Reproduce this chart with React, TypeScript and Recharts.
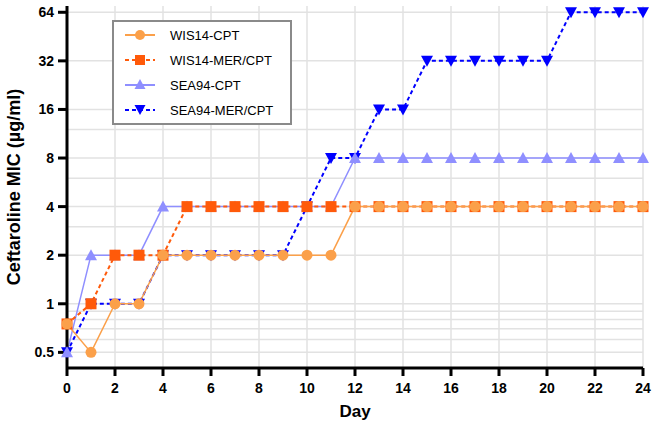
import React from "react";
import { LineChart, Line, XAxis, YAxis, CartesianGrid, Legend } from "recharts";

const days = [0, 1, 2, 3, 4, 5, 6, 7, 8, 9, 10, 11, 12, 13, 14, 15, 16, 17, 18, 19, 20, 21, 22, 23, 24];
const wis14Cpt = [0.75, 0.5, 1, 1, 2, 2, 2, 2, 2, 2, 2, 2, 4, 4, 4, 4, 4, 4, 4, 4, 4, 4, 4, 4, 4];
const wis14MerCpt = [0.75, 1, 2, 2, 2, 4, 4, 4, 4, 4, 4, 4, 4, 4, 4, 4, 4, 4, 4, 4, 4, 4, 4, 4, 4];
const sea94Cpt = [0.5, 2, 2, 2, 4, 4, 4, 4, 4, 4, 4, 4, 8, 8, 8, 8, 8, 8, 8, 8, 8, 8, 8, 8, 8];
const sea94MerCpt = [0.5, 1, 1, 1, 2, 2, 2, 2, 2, 2, 4, 8, 8, 16, 16, 32, 32, 32, 32, 32, 32, 64, 64, 64, 64];

const seriesNames = ["WIS14-CPT", "WIS14-MER/CPT", "SEA94-CPT", "SEA94-MER/CPT"];
const yTicks = [0.5, 1, 2, 4, 8, 16, 32, 64];
const xTicks = [0, 2, 4, 6, 8, 10, 12, 14, 16, 18, 20, 22, 24];
const yGrid = [0.5, 0.6, 0.7, 0.8, 0.9, 1, 2, 3, 4, 6, 8, 12, 16, 32, 64];

const data = days.map((d, i) => ({
  day: d,
  wis14Cpt: wis14Cpt[i],
  wis14MerCpt: wis14MerCpt[i],
  sea94Cpt: sea94Cpt[i],
  sea94MerCpt: sea94MerCpt[i],
}));

const C_WCPT = "#fba04a";
const C_WMER = "#ff5a0a";
const C_SCPT = "#8f8fff";
const C_SMER = "#0000ff";

const font = "'Liberation Sans', Arial, sans-serif";

const Circle = (p: any) => {
  const { cx, cy, key } = p;
  if (cx == null || cy == null) return <g key={key} />;
  return <circle key={key} cx={cx} cy={cy} r={5.5} fill={C_WCPT} stroke="none" />;
};
const Square = (p: any) => {
  const { cx, cy, key } = p;
  if (cx == null || cy == null) return <g key={key} />;
  return <rect key={key} x={cx - 5.5} y={cy - 5.5} width={11} height={11} fill={C_WMER} stroke="none" />;
};
const TriUp = (p: any) => {
  const { cx, cy, key } = p;
  if (cx == null || cy == null) return <g key={key} />;
  return <path key={key} d={`M${cx},${cy - 6}L${cx + 6},${cy + 5}L${cx - 6},${cy + 5}Z`} fill={C_SCPT} stroke="none" />;
};
const TriDown = (p: any) => {
  const { cx, cy, key } = p;
  if (cx == null || cy == null) return <g key={key} />;
  return <path key={key} d={`M${cx - 6},${cy - 5}L${cx + 6},${cy - 5}L${cx},${cy + 6}Z`} fill={C_SMER} stroke="none" />;
};

const legendItems = [
  { name: seriesNames[0], color: C_WCPT, dash: undefined, marker: "circle" },
  { name: seriesNames[1], color: C_WMER, dash: "4 3", marker: "square" },
  { name: seriesNames[2], color: C_SCPT, dash: undefined, marker: "up" },
  { name: seriesNames[3], color: C_SMER, dash: "4 3", marker: "down" },
];

const LegendContent = () => (
  <div
    style={{
      position: "relative",
      width: 176,
      height: 101,
      border: "2px solid #8a8a8a",
      background: "#fff",
      boxSizing: "content-box",
      fontFamily: font,
      fontSize: 13,
      color: "#000",
    }}
  >
    {legendItems.map((it, i) => (
      <div key={it.name} style={{ position: "absolute", left: 0, top: 3 + i * 25, height: 20, display: "flex", alignItems: "center" }}>
        <svg width={50} height={20} style={{ display: "block" }}>
          <line x1={11} x2={41} y1={10} y2={10} stroke={it.color} strokeWidth={2} strokeDasharray={it.dash} />
          {it.marker === "circle" && <circle cx={26} cy={10} r={5} fill={it.color} />}
          {it.marker === "square" && <rect x={21} y={5} width={10} height={10} fill={it.color} />}
          {it.marker === "up" && <path d="M26,4L31.5,14L20.5,14Z" fill={it.color} />}
          {it.marker === "down" && <path d="M20.5,5L31.5,5L26,15Z" fill={it.color} />}
        </svg>
        <span style={{ marginLeft: 6, whiteSpace: "nowrap" }}>{it.name}</span>
      </div>
    ))}
  </div>
);

const tickStyle = { fill: "#000", fontSize: 14, fontWeight: "bold" as const, fontFamily: font };

export default function App() {
  return (
    <div style={{ position: "absolute", left: 0, top: 0, width: 656, height: 424, background: "#fff" }}>
      <LineChart width={656} height={424} data={data} margin={{ top: 6, right: 13, bottom: 0, left: 0 }}>
        <CartesianGrid
          stroke="#e2e2e2"
          strokeWidth={1.5}
          horizontalValues={yGrid}
          verticalValues={xTicks}
        />
        <XAxis
          dataKey="day"
          type="number"
          domain={[0, 24]}
          ticks={xTicks}
          interval={0}
          height={56}
          axisLine={{ stroke: "#000", strokeWidth: 3 }}
          tickLine={{ stroke: "#000", strokeWidth: 3 }}
          tickSize={8}
          tickMargin={7}
          tick={tickStyle}
          label={{ value: "Day", position: "insideBottom", offset: 7, style: { fill: "#000", fontSize: 17, fontWeight: "bold", fontFamily: font } }}
        />
        <YAxis
          type="number"
          scale="log"
          domain={[0.4, 70]}
          allowDataOverflow
          ticks={yTicks}
          interval={0}
          width={67}
          axisLine={{ stroke: "#000", strokeWidth: 3 }}
          tickLine={{ stroke: "#000", strokeWidth: 3 }}
          tickSize={9}
          tickMargin={4}
          tick={tickStyle}
          label={{
            value: "Ceftaroline MIC (µg/ml)",
            angle: -90,
            position: "insideLeft",
            offset: 14,
            style: { fill: "#000", fontSize: 18, fontWeight: "bold", fontFamily: font, textAnchor: "middle" },
          }}
        />
        <Legend
          verticalAlign="middle"
          align="center"
          layout="vertical"
          wrapperStyle={{ left: 112, top: 20, width: 180, height: 105, margin: 0 }}
          content={<LegendContent />}
        />
        <Line name={seriesNames[3]} dataKey="sea94MerCpt" stroke={C_SMER} strokeWidth={2} strokeDasharray="4 3" dot={TriDown} activeDot={false} isAnimationActive={false} />
        <Line name={seriesNames[2]} dataKey="sea94Cpt" stroke={C_SCPT} strokeWidth={1.5} dot={TriUp} activeDot={false} isAnimationActive={false} />
        <Line name={seriesNames[1]} dataKey="wis14MerCpt" stroke={C_WMER} strokeWidth={2} strokeDasharray="4 3" dot={Square} activeDot={false} isAnimationActive={false} />
        <Line name={seriesNames[0]} dataKey="wis14Cpt" stroke={C_WCPT} strokeWidth={1.5} dot={Circle} activeDot={false} isAnimationActive={false} />
      </LineChart>
    </div>
  );
}
